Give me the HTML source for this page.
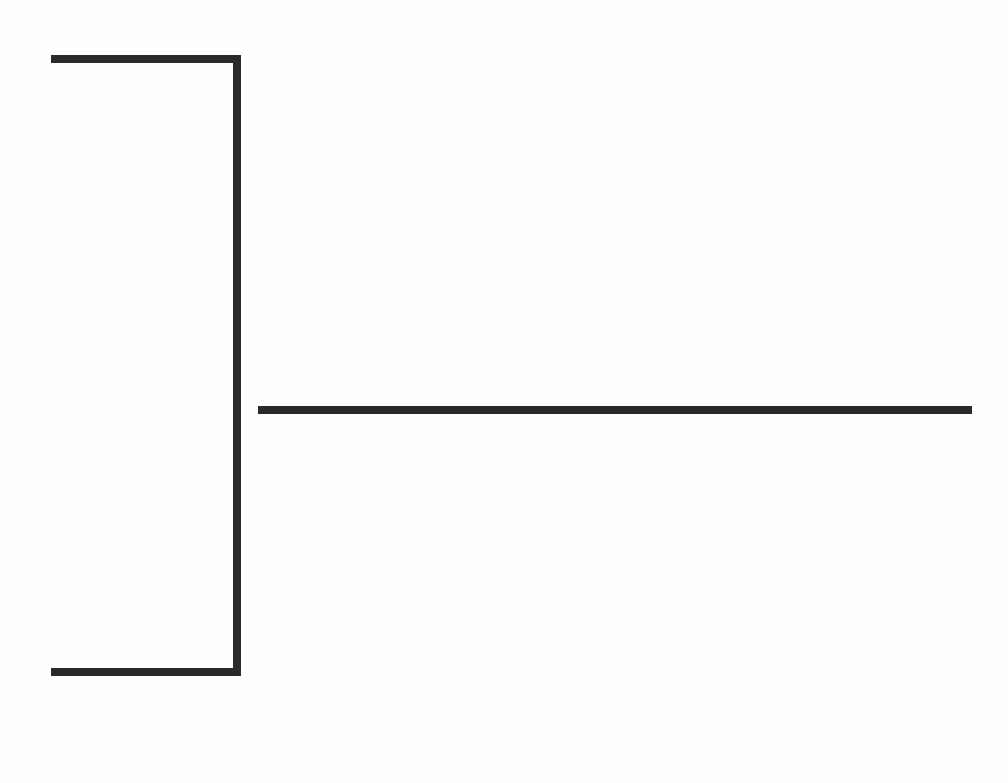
<!DOCTYPE html>
<html><head><style>
html,body{margin:0;padding:0;background:#fefefe;}
body{width:1008px;height:783px;position:relative;overflow:hidden;}
.l{position:absolute;background:#2a2a2a;}
</style></head><body>
<div class="l" style="left:51px;top:55px;width:190px;height:8px"></div>
<div class="l" style="left:233px;top:55px;width:8px;height:621px"></div>
<div class="l" style="left:51px;top:668px;width:190px;height:8px"></div>
<div class="l" style="left:258px;top:406px;width:714px;height:8px"></div>
</body></html>
